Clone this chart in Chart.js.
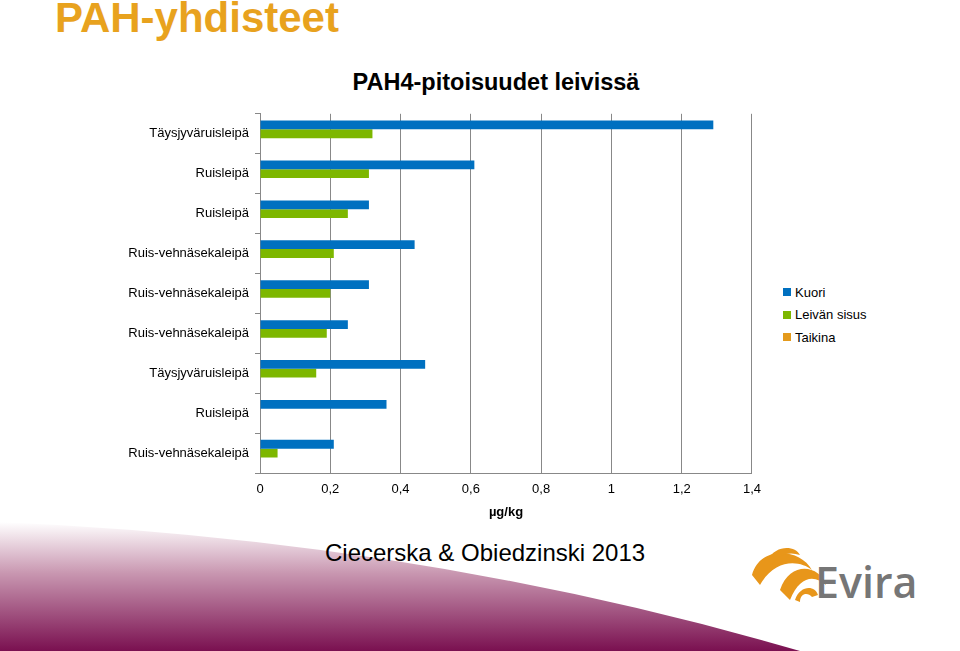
<!DOCTYPE html>
<html><head><meta charset="utf-8">
<script src="https://cdn.jsdelivr.net/npm/chart.js@4"></script>
<style>
body{margin:0;width:960px;height:651px;background:#fff;position:relative;overflow:hidden;font-family:"Liberation Sans",Arial,sans-serif}
#hdr{position:absolute;left:55px;top:-6px;font-size:42px;font-weight:bold;color:#E8A21E}
#ttl{position:absolute;left:0;width:992px;text-align:center;top:69px;font-size:23.5px;font-weight:bold;color:#000}
#leg{position:absolute;left:783px;top:281px;font-size:13px;color:#000}
#leg div{height:22.5px;display:flex;align-items:center}
#leg span{display:inline-block;width:8px;height:8px;margin-right:4px}
#cw{position:absolute;left:0;top:100px;width:770px;height:420px}
#cite{position:absolute;left:325px;top:539px;font-size:24px;color:#000}
#evira{position:absolute;left:815px;top:552px;font-size:43px;font-weight:600;color:#767676;font-family:"Open Sans",sans-serif}
</style></head><body>
<svg width="960" height="651" style="position:absolute;left:0;top:0">
<defs><linearGradient id="g" x1="0" y1="0" x2="0" y2="1">
<stop offset="0" stop-color="#ffffff"/><stop offset="0.4" stop-color="#c896b0"/><stop offset="1" stop-color="#7a1050"/></linearGradient></defs>
<path d="M0,522 Q420,540 800,651 L0,651 Z" fill="url(#g)"/>
<g fill="#E8961A">
<path d="M752,575 C760,545 800,548 812,570 C800,560 775,558 760,585 Z"/>
<path d="M768,560 C775,545 795,545 800,555 C790,552 780,553 772,565 Z"/>
<path d="M780,590 C790,560 820,565 826,585 C815,575 800,575 790,600 Z"/>
<path d="M795,600 C800,585 815,585 818,595 L812,597 C808,592 800,593 800,602 Z"/>
</g>
</svg>
<div id="hdr">PAH-yhdisteet</div>
<div id="ttl">PAH4-pitoisuudet leivissä</div>
<div id="cw"><canvas id="c"></canvas></div>
<div id="leg">
<div><span style="background:#0070C0"></span>Kuori</div>
<div><span style="background:#7DB700"></span>Leivän sisus</div>
<div><span style="background:#E49A1C"></span>Taikina</div>
</div>
<div id="cite">Ciecerska &amp; Obiedzinski 2013</div>
<div id="evira">Evira</div>
<script>
const categories=["Täysjyväruisleipä","Ruisleipä","Ruisleipä","Ruis-vehnäsekaleipä","Ruis-vehnäsekaleipä","Ruis-vehnäsekaleipä","Täysjyväruisleipä","Ruisleipä","Ruis-vehnäsekaleipä"];
const kuori=[1.29,0.61,0.31,0.44,0.31,0.25,0.47,0.36,0.21];
const sisus=[0.32,0.31,0.25,0.21,0.20,0.19,0.16,0,0.05];
const taikina=[0,0,0,0,0,0,0,0,0];
const xTicks=["0","0,2","0,4","0,6","0,8","1","1,2","1,4"];
Chart.defaults.font.family='"Liberation Sans",Arial,sans-serif';
Chart.defaults.color='#000';
new Chart(document.getElementById('c'),{type:'bar',
data:{labels:categories,datasets:[
{label:'Kuori',data:kuori,backgroundColor:'#0070C0'},
{label:'Leivän sisus',data:sisus,backgroundColor:'#7DB700'},
{label:'Taikina',data:taikina,backgroundColor:'#E49A1C'}]},
options:{indexAxis:'y',responsive:true,maintainAspectRatio:false,animation:false,
layout:{padding:{top:13,right:18,left:0,bottom:0}},
datasets:{bar:{categoryPercentage:0.66,barPercentage:1}},
plugins:{legend:{display:false},tooltip:{enabled:false}},
scales:{
x:{min:0,max:1.4,ticks:{stepSize:0.2,padding:9,font:{size:13},callback:(v,i)=>xTicks[i]},
grid:{color:'#888',tickLength:0},border:{color:'#888'},
title:{display:true,text:'µg/kg',font:{size:13,weight:'bold'},padding:{top:0,bottom:0}},
afterFit:s=>{s.height=47}},
y:{ticks:{font:{size:13},padding:6},grid:{drawOnChartArea:false,tickLength:5,color:'#888',offset:true},border:{color:'#888'},
afterFit:s=>{s.width=260}}}}});
</script>
</body></html>
